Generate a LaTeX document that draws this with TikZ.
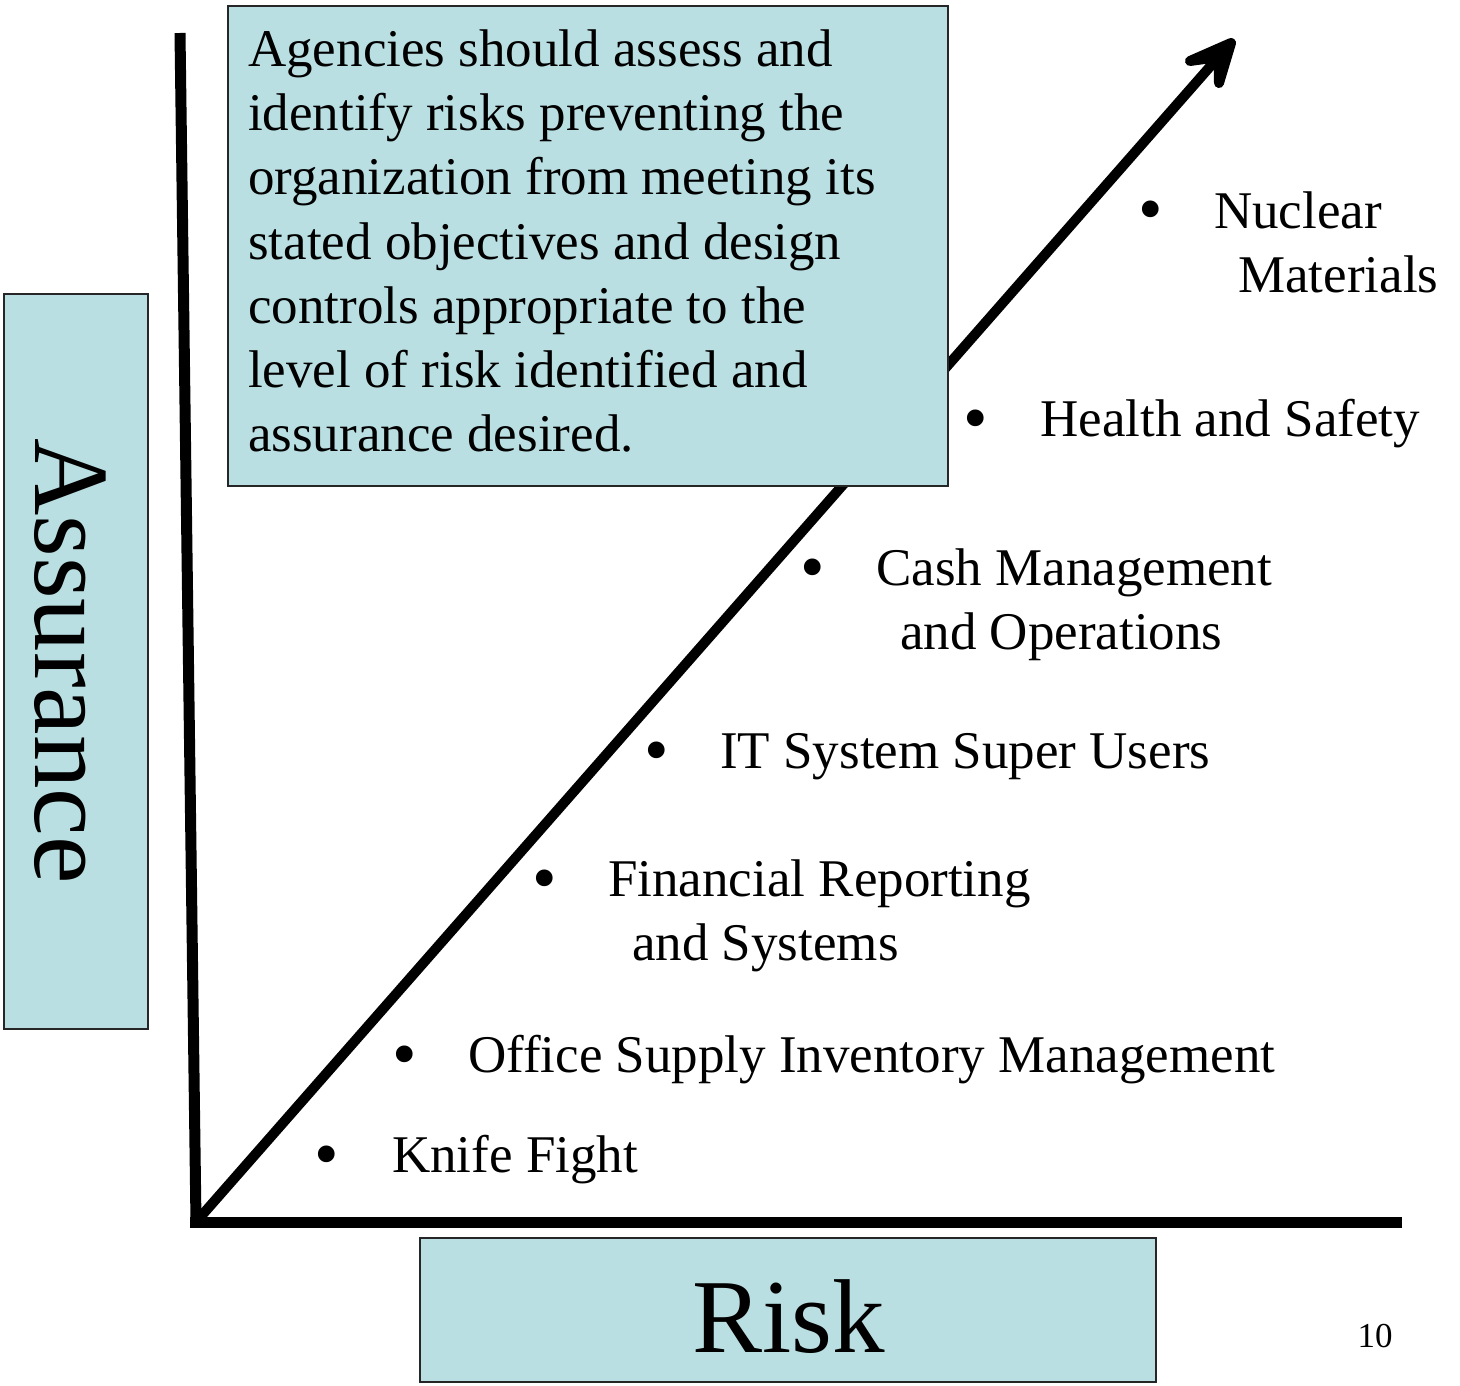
\documentclass[tikz,border=0pt]{standalone}
\usepackage{fontspec}
\setmainfont{Liberation Serif}
\definecolor{boxblue}{RGB}{186,223,226}
\begin{document}
\begin{tikzpicture}[x=1pt,y=-1pt,
  panel/.style={draw=black!85,line width=1.6pt,fill=boxblue,inner sep=0pt},
  axis/.style={line width=11pt},
  head/.style={line width=10pt,line join=round,line cap=round,fill=black},
  txt/.style={inner sep=0pt,anchor=base west,font=\fontsize{53}{64}\selectfont},
  bul/.style={inner sep=0pt,anchor=base,yshift=-5pt,font=\fontsize{70}{80}\selectfont}]
\useasboundingbox (0,0) rectangle (1460,1386);
% axes
\coordinate (O) at (196,1222);
\coordinate (Ytop) at (180,33);
\coordinate (Xend) at (1402,1222);
\coordinate (Tip) at (1231,43);
\coordinate (Neck) at (1218.5,57);
\coordinate (BarbL) at (1190,61);
\coordinate (BarbR) at (1219,83);
\draw[axis] (O) -- (Ytop);
\draw[axis] ([xshift=-6pt]O) -- (Xend);
\draw[line width=10pt] (O) -- (Neck);
\filldraw[head] (BarbL) -- (Tip) -- (BarbR) -- (Neck) -- cycle;
% text box
\node[panel,minimum width=720pt,minimum height=480pt] (tb) at (588,246) {};
\node[txt] (l1) at (248,67) {Agencies should assess and};
\node[txt] (l2) at (248,131) {identify risks preventing the};
\node[txt] (l3) at (248,195) {organization from meeting its};
\node[txt] (l4) at (248,259) {stated objectives and design};
\node[txt] (l5) at (248,323) {controls appropriate to the};
\node[txt] (l6) at (248,387) {level of risk identified and};
\node[txt] (l7) at (248,451) {assurance desired.};
% assurance box
\node[panel,minimum width=144pt,minimum height=735pt] (ab) at (76,661.5) {};
\node[inner sep=0pt,anchor=base,rotate=-90,font=\fontsize{107}{120}\selectfont] (at) at (35,661) {Assurance};
% risk box
\node[panel,minimum width=736pt,minimum height=144pt] (rb) at (788,1310) {};
\node[inner sep=0pt,anchor=base,font=\fontsize{105}{120}\selectfont] (rt) at (789,1352) {Risk};
% page number
\node[inner sep=0pt,anchor=base,font=\fontsize{35}{40}\selectfont] (pn) at (1375,1347) {10};
% bullets
\node[bul] (b1) at (1151,228) {•};
\node[txt] (t1a) at (1214,228) {Nuclear};
\node[txt] (t1b) at (1238,292) {Materials};
\node[bul] (b2) at (976,436) {•};
\node[txt] (t2) at (1040,436) {Health and Safety};
\node[bul] (b3) at (813,585) {•};
\node[txt] (t3a) at (876,585) {Cash Management};
\node[txt] (t3b) at (900,649) {and Operations};
\node[bul] (b4) at (657,768) {•};
\node[txt] (t4) at (720,768) {IT System Super Users};
\node[bul] (b5) at (545,896) {•};
\node[txt] (t5a) at (608,896) {Financial Reporting};
\node[txt] (t5b) at (632,960) {and Systems};
\node[bul] (b6) at (405,1072) {•};
\node[txt] (t6) at (468,1072) {Office Supply Inventory Management};
\node[bul] (b7) at (327,1172) {•};
\node[txt] (t7) at (392,1172) {Knife Fight};
\end{tikzpicture}
\end{document}
